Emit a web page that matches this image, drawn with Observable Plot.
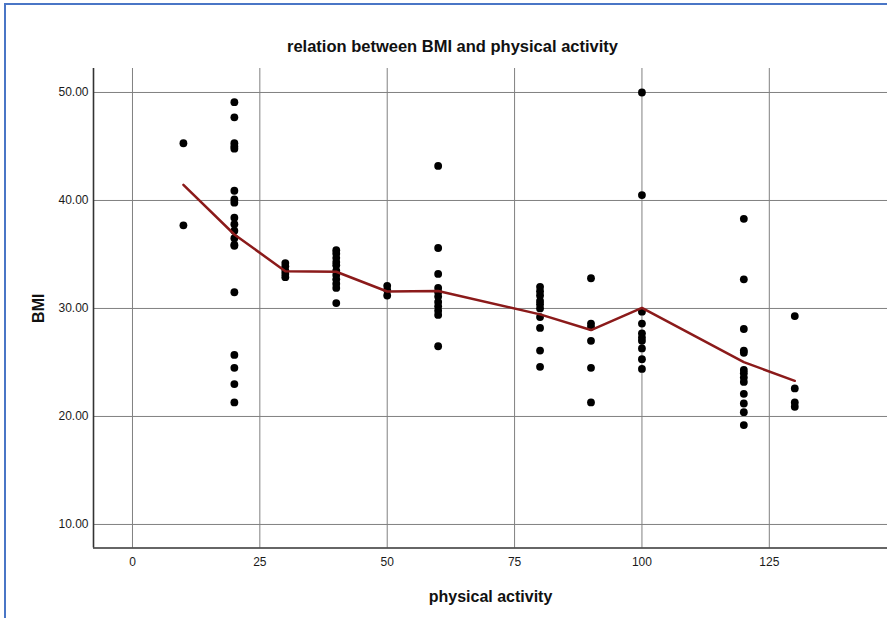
<!DOCTYPE html>
<html><head><meta charset="utf-8">
<script src="https://cdn.jsdelivr.net/npm/d3@7"></script>
<script src="https://cdn.jsdelivr.net/npm/@observablehq/plot@0.6"></script>
<style>
body{margin:0;background:#fff;}
#wrap{position:relative;width:887px;height:618px;overflow:hidden;}
#frame{position:absolute;left:4px;top:3px;right:-10px;bottom:-10px;border-left:2px solid #4a76c6;border-top:2px solid #4a76c6;pointer-events:none;}
</style>
</head><body>
<div id="wrap"><div id="frame"></div></div>
<script>
const title = "relation between BMI and physical activity";
const xLabel = "physical activity";
const yLabel = "BMI";
const xTicks = [0, 25, 50, 75, 100, 125];
const yTicks = [10, 20, 30, 40, 50];

// individual observations (physical activity, BMI)
const activity = [
  10, 10,
  20,20,20,20,20,20,20,20,20,20,20,20,20,20,20,20,20,20,20,
  30,30,30,30,30,
  40,40,40,40,40,40,40,40,40,40,40,
  50,50,50,
  60,60,60,60,60,60,60,60,60,60,60,
  80,80,80,80,80,80,80,80,80,80,
  90,90,90,90,90,90,
  100,100,100,100,100,100,100,100,100,100,
  120,120,120,120,120,120,120,120,120,120,120,120,120,
  130,130,130,130
];
const bmi = [
  45.3, 37.7,
  49.1, 47.7, 45.3, 45.0, 44.8, 40.9, 40.1, 39.8, 38.4, 37.8, 37.2, 36.5, 35.9, 35.8, 31.5, 25.7, 24.5, 23.0, 21.3,
  34.2, 33.9, 33.5, 33.2, 32.9,
  35.4, 35.1, 34.7, 34.3, 34.0, 33.5, 33.1, 32.7, 32.3, 31.9, 30.5,
  32.1, 31.7, 31.2,
  43.2, 35.6, 33.2, 31.9, 31.5, 31.1, 30.6, 30.2, 29.8, 29.4, 26.5,
  32.0, 31.6, 31.2, 30.7, 30.4, 30.0, 29.2, 28.2, 26.1, 24.6,
  32.8, 28.6, 28.3, 27.0, 24.5, 21.3,
  50.0, 40.5, 29.7, 28.6, 27.7, 27.3, 27.0, 26.3, 25.3, 24.4,
  38.3, 32.7, 28.1, 26.1, 25.9, 24.3, 24.0, 23.6, 23.2, 22.1, 21.2, 20.4, 19.2,
  29.3, 22.6, 21.3, 20.9
];

// mean line
const meanActivity = [10, 20, 30, 40, 50, 60, 80, 90, 100, 120, 130];
const meanBmi = [41.45, 36.85, 33.45, 33.4, 31.57, 31.62, 29.45, 28.0, 30.05, 25.03, 23.3];

const points = activity.map((a, i) => ({activity: a, bmi: bmi[i]}));
const meanPts = meanActivity.map((a, i) => ({activity: a, bmi: meanBmi[i]}));

const xDomain = [-7.65, 148.2];
const yDomain = [7.82, 52.22];

const chart = Plot.plot({
  width: 887,
  height: 618,
  marginLeft: 93,
  marginRight: 0,
  marginTop: 68,
  marginBottom: 70.5,
  style: {fontFamily: "'Liberation Sans', Arial, sans-serif", fontSize: "12px", color: "#1a1a1a", background: "transparent"},
  x: {domain: xDomain, ticks: xTicks, tickSize: 0, tickPadding: 9, label: null},
  y: {domain: yDomain, ticks: yTicks, tickFormat: d => d.toFixed(2), tickSize: 0, tickPadding: 5, label: null},
  marks: [
    Plot.ruleX(xTicks, {stroke: "#808080", strokeWidth: 1}),
    Plot.ruleY(yTicks, {stroke: "#808080", strokeWidth: 1}),
    Plot.ruleX([xDomain[0]], {stroke: "#333", strokeWidth: 1.6}),
    Plot.ruleY([yDomain[0]], {stroke: "#333", strokeWidth: 1.6}),
    Plot.dot(points, {x: "activity", y: "bmi", r: 3.9, fill: "#000", stroke: "none"}),
    Plot.line(meanPts, {x: "activity", y: "bmi", stroke: "#8b1a1a", strokeWidth: 2.5}),
    Plot.text([title], {frameAnchor: "top-left", dx: 452 - 93, dy: 46 - 68, text: d => d, textAnchor: "middle", lineAnchor: "middle", fontSize: 16.5, fontWeight: "bold", fill: "#111"}),
    Plot.text([xLabel], {frameAnchor: "bottom-left", dx: 490 - 93, dy: 48.5, text: d => d, textAnchor: "middle", lineAnchor: "middle", fontSize: 16, fontWeight: "bold", fill: "#111"}),
    Plot.text([yLabel], {frameAnchor: "left", dx: 38 - 93, text: d => d, rotate: -90, textAnchor: "middle", lineAnchor: "middle", fontSize: 16, fontWeight: "bold", fill: "#111"})
  ]
});
document.getElementById("wrap").prepend(chart);
</script>
</body></html>
